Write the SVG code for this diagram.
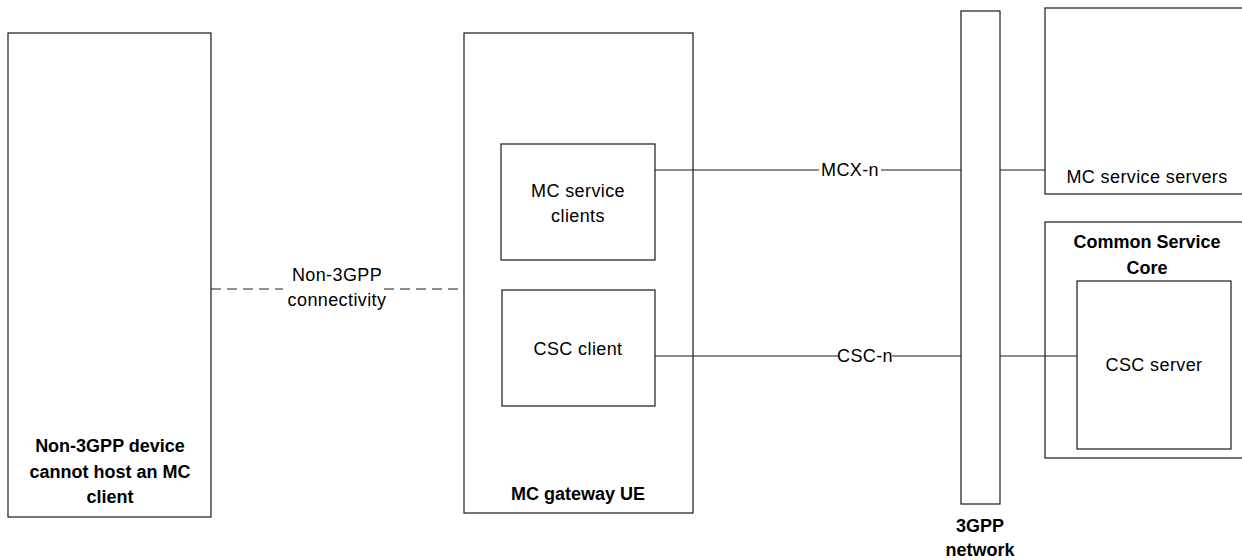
<svg xmlns="http://www.w3.org/2000/svg" width="1242" height="560" viewBox="0 0 1242 560">
<style>
.box{fill:#fff;stroke:#1a1a1a;stroke-width:1.2}
.ln{fill:none;stroke:#1a1a1a;stroke-width:1.2}
.dash{fill:none;stroke:#1a1a1a;stroke-width:1.2;stroke-dasharray:10 6}
.t{font-family:"Liberation Sans",Arial,sans-serif;font-size:18px;fill:#000;text-anchor:middle;letter-spacing:0.4px}
.b{font-family:"Liberation Sans",Arial,sans-serif;font-size:18px;font-weight:bold;fill:#000;text-anchor:middle}
</style>
<rect width="1242" height="560" fill="#fff"/>
<g id="non3gpp-device">
<rect class="box" x="8" y="33" width="203" height="484"/>
<text class="b" x="110" y="452">Non-3GPP device</text>
<text class="b" x="110" y="478">cannot host an MC</text>
<text class="b" x="110" y="503">client</text>
</g>
<g id="mc-gateway-ue">
<rect class="box" x="464" y="33" width="229" height="480"/>
<text class="b" x="578" y="500">MC gateway UE</text>
</g>
<g id="mc-service-clients">
<rect class="box" x="501" y="144" width="154" height="116"/>
<text class="t" x="578" y="197">MC service</text>
<text class="t" x="578" y="222">clients</text>
</g>
<g id="csc-client">
<rect class="box" x="502" y="290" width="153" height="116"/>
<text class="t" x="578" y="355">CSC client</text>
</g>
<g id="network-3gpp">
<rect class="box" x="961" y="11" width="39" height="493"/>
<text class="b" x="980" y="532">3GPP</text>
<text class="b" x="980" y="556">network</text>
</g>
<g id="mc-service-servers">
<rect class="box" x="1045" y="8" width="205" height="186"/>
<text class="t" x="1147" y="183">MC service servers</text>
</g>
<g id="common-service-core">
<rect class="box" x="1045" y="222" width="205" height="236"/>
<text class="b" x="1147" y="248">Common Service</text>
<text class="b" x="1147" y="274">Core</text>
</g>
<g id="csc-server">
<rect class="box" x="1077" y="281" width="154" height="168"/>
<text class="t" x="1154" y="371">CSC server</text>
</g>
<g id="connectors">
<path class="dash" d="M211 289H283M384 289H464"/>
<text class="t" x="337" y="281">Non-3GPP</text>
<text class="t" x="337" y="306">connectivity</text>
<path class="ln" d="M655 170H819M881 170H961M1000 170H1045"/>
<text class="t" x="850" y="176">MCX-n</text>
<path class="ln" d="M655 356H839M892 356H961M1000 356H1077"/>
<text class="t" x="865" y="362">CSC-n</text>
</g>
</svg>
